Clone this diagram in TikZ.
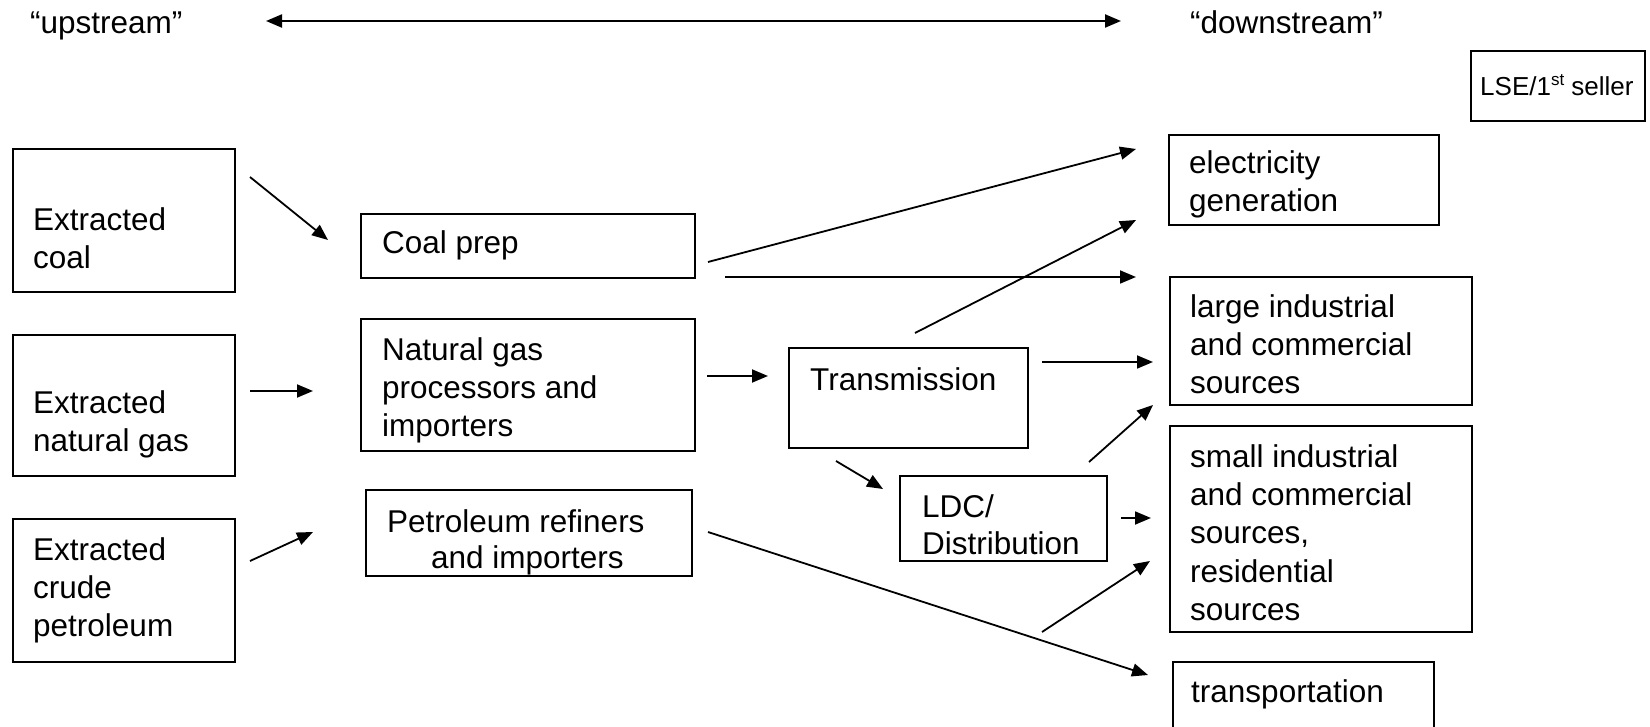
\documentclass[tikz,border=0pt]{standalone}
\usepackage{fontspec}
\setmainfont{Liberation Sans}
\usetikzlibrary{arrows.meta}
\begin{document}
\begin{tikzpicture}[x=1pt,y=-1pt,
  box/.style={draw, line width=2pt, inner sep=0pt, anchor=north west},
  lbl/.style={inner sep=0pt, anchor=north west, align=left, font=\fontsize{31.5}{38.3}\selectfont},
  arr/.style={line width=1.8pt, -{Triangle[length=16pt,width=13pt]}},
  darr/.style={line width=2.2pt, {Triangle[length=16pt,width=13pt]}-{Triangle[length=16pt,width=13pt]}},
]
\useasboundingbox (0,0) rectangle (1650,727);
\newcommand{\fs}{\rule{0pt}{30pt}}

% header
\node[lbl] (upT) at (30,3) {\fs “upstream”};
\node[lbl] (downT) at (1190,3) {\fs “downstream”};
\coordinate (uL) at (266,21);
\coordinate (uR) at (1121,21);
\draw[darr] (uL) -- (uR);

% LSE box
\node[box, minimum width=174pt, minimum height=70pt] (lse) at (1470,50) {};
\node[lbl, font=\fontsize{26}{30}\selectfont] (lseT) at (1480,65) {\fs LSE/1\raisebox{0.36em}{\fontsize{17}{17}\selectfont st} seller};

% left column
\node[box, minimum width=222pt, minimum height=143pt] (coal) at (12,148) {};
\node[lbl] (coalT) at (33,200) {\fs Extracted\\coal};
\node[box, minimum width=222pt, minimum height=141pt] (gasx) at (12,334) {};
\node[lbl] (gasxT) at (33,383) {\fs Extracted\\natural gas};
\node[box, minimum width=222pt, minimum height=143pt] (crude) at (12,518) {};
\node[lbl] (crudeT) at (33,530) {\fs Extracted\\crude\\petroleum};

% middle column
\node[box, minimum width=334pt, minimum height=64pt] (prep) at (360,213) {};
\node[lbl] (prepT) at (382,223) {\fs Coal prep};
\node[box, minimum width=334pt, minimum height=132pt] (proc) at (360,318) {};
\node[lbl] (procT) at (382,330) {\fs Natural gas\\processors and\\importers};
\node[box, minimum width=326pt, minimum height=86pt] (petro) at (365,489) {};
\node[lbl] (petroT) at (387,502) {\fs Petroleum refiners\\[-2pt]\hspace*{44pt}and importers};

% transmission / distribution
\node[box, minimum width=239pt, minimum height=100pt] (trans) at (788,347) {};
\node[lbl] (transT) at (810,360) {\fs Transmission};
\node[box, minimum width=207pt, minimum height=85pt] (ldc) at (899,475) {};
\node[lbl] (ldcT) at (922,487) {\fs LDC/\\[-1pt]Distribution};

% right column
\node[box, minimum width=270pt, minimum height=90pt] (elec) at (1168,134) {};
\node[lbl] (elecT) at (1189,143) {\fs electricity\\generation};
\node[box, minimum width=302pt, minimum height=128pt] (large) at (1169,276) {};
\node[lbl] (largeT) at (1190,287) {\fs large industrial\\and commercial\\sources};
\node[box, minimum width=302pt, minimum height=206pt] (small) at (1169,425) {};
\node[lbl] (smallT) at (1190,437) {\fs small industrial\\and commercial\\sources,\\residential\\sources};
\node[box, minimum width=261pt, minimum height=90pt] (transp) at (1172,661) {};
\node[lbl] (transpT) at (1191,672) {\fs transportation};

% arrow end points
\coordinate (a1s) at (250,177);  \coordinate (a1e) at (328,240);
\coordinate (a2s) at (250,391);  \coordinate (a2e) at (313,391);
\coordinate (a3s) at (250,561);  \coordinate (a3e) at (313,532);
\coordinate (a4s) at (708,262);  \coordinate (a4e) at (1136,149);
\coordinate (a5s) at (725,277);  \coordinate (a5e) at (1136,277);
\coordinate (a6s) at (707,376);  \coordinate (a6e) at (768,376);
\coordinate (a7s) at (915,333);  \coordinate (a7e) at (1136,220);
\coordinate (a8s) at (1042,362); \coordinate (a8e) at (1153,362);
\coordinate (a9s) at (836,461);  \coordinate (a9e) at (883,489);
\coordinate (a10s) at (1089,462); \coordinate (a10e) at (1153,405);
\coordinate (a11s) at (1121,518); \coordinate (a11e) at (1151,518);
\coordinate (a12s) at (708,532); \coordinate (a12e) at (1148,675);
\coordinate (a13s) at (1042,632); \coordinate (a13e) at (1150,561);

\draw[arr] (a1s) -- (a1e);
\draw[arr] (a2s) -- (a2e);
\draw[arr] (a3s) -- (a3e);
\draw[arr] (a4s) -- (a4e);
\draw[arr] (a5s) -- (a5e);
\draw[arr] (a6s) -- (a6e);
\draw[arr] (a7s) -- (a7e);
\draw[arr] (a8s) -- (a8e);
\draw[arr] (a9s) -- (a9e);
\draw[arr] (a10s) -- (a10e);
\draw[arr] (a11s) -- (a11e);
\draw[arr] (a12s) -- (a12e);
\draw[arr] (a13s) -- (a13e);
\end{tikzpicture}
\end{document}
